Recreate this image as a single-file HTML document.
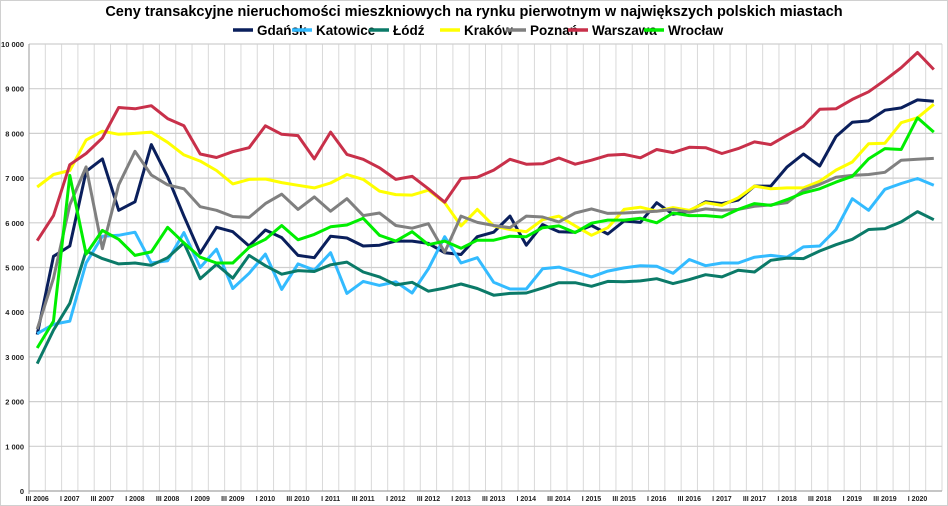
<!DOCTYPE html>
<html><head><meta charset="utf-8"><style>
body{margin:0;background:#fff;}
svg{display:block;font-family:"Liberation Sans",sans-serif;}
</style></head><body>
<svg id="chart" width="948" height="506" viewBox="0 0 948 506" xmlns="http://www.w3.org/2000/svg">
<rect x="0.5" y="0.5" width="947" height="505" fill="#fff" stroke="#d0d0d0"/>
<text x="474" y="16" text-anchor="middle" font-size="14.5" font-weight="bold" fill="#000">Ceny transakcyjne nieruchomości mieszkniowych na rynku pierwotnym w największych polskich miastach</text>
<g id="legend"></g>
<g id="grid"></g>
<g id="yaxis"></g>
<g id="xaxis"></g>
<g id="series"></g>
</svg>
<script>
const categoriesStart = {year: 2006, quarter: 3};
const quarterCount = 56;
const yTicks = [0,1000,2000,3000,4000,5000,6000,7000,8000,9000,10000];
const seriesNames = ["Gdańsk","Katowice","Łódź","Kraków","Poznań","Warszawa","Wrocław"];
const seriesColors = ["#0a1f5c","#33bbff","#0b7a68","#ffff00","#808080","#c8304a","#00ee00"];
const gdansk = [3500,5250,5480,7150,7430,6280,6470,7750,7030,6150,5320,5900,5800,5480,5840,5670,5270,5220,5700,5660,5480,5500,5590,5590,5540,5330,5290,5690,5790,6150,5500,5960,5800,5790,5940,5750,6040,6010,6450,6190,6260,6470,6430,6510,6820,6820,7250,7540,7270,7930,8250,8280,8520,8570,8750,8720];
const katowice = [3520,3730,3800,5100,5700,5720,5790,5100,5150,5780,5000,5410,4530,4870,5300,4510,5080,4940,5330,4420,4690,4600,4680,4430,4970,5690,5100,5220,4670,4520,4520,4970,5010,4900,4790,4920,4990,5040,5030,4870,5180,5040,5100,5100,5230,5270,5230,5460,5480,5850,6540,6280,6750,6880,6990,6840];
const lodz = [2850,3600,4200,5370,5200,5080,5100,5050,5220,5550,4750,5070,4760,5270,5040,4850,4930,4910,5060,5120,4900,4790,4610,4670,4470,4540,4630,4530,4380,4420,4430,4540,4660,4660,4580,4690,4680,4700,4750,4640,4730,4840,4790,4940,4900,5160,5210,5200,5370,5510,5630,5850,5870,6020,6250,6070];
const krakow = [6800,7080,7170,7850,8050,7980,8000,8030,7800,7520,7380,7170,6870,6970,6980,6900,6840,6780,6890,7080,6970,6710,6630,6620,6730,6450,5930,6300,5930,5850,5800,6070,6150,5930,5720,5890,6300,6350,6260,6340,6280,6450,6390,6560,6820,6760,6780,6780,6930,7180,7360,7770,7780,8240,8350,8650];
const poznan = [3620,4760,6400,7250,5420,6850,7600,7070,6850,6760,6360,6280,6140,6120,6430,6640,6300,6580,6260,6540,6160,6220,5940,5880,5980,5340,6150,6010,5940,5890,6150,6130,6020,6220,6310,6210,6220,6240,6260,6300,6240,6310,6280,6300,6370,6400,6450,6730,6860,7020,7060,7080,7130,7400,7420,7440];
const warszawa = [5600,6160,7300,7550,7900,8580,8550,8620,8330,8170,7540,7460,7590,7680,8170,7980,7950,7430,8030,7530,7420,7230,6970,7040,6760,6460,6990,7020,7180,7420,7310,7320,7450,7310,7400,7510,7530,7455,7640,7570,7690,7680,7550,7660,7810,7750,7960,8160,8540,8550,8760,8930,9190,9470,9810,9430];
const wroclaw = [3200,3800,7060,5300,5830,5630,5270,5350,5900,5550,5230,5100,5100,5450,5630,5940,5620,5740,5910,5950,6100,5720,5590,5800,5510,5590,5430,5610,5610,5700,5690,5890,5930,5780,5990,6060,6060,6100,6000,6220,6160,6160,6130,6300,6430,6390,6520,6670,6760,6910,7040,7430,7660,7640,8350,8030];
const seriesData = [gdansk,katowice,lodz,krakow,poznan,warszawa,wroclaw];
const legendTextX = [257,316,393,464,530,592,668];

const NS="http://www.w3.org/2000/svg";
const L=29,R=942,T=44,B=491,yMax=10000;
const step=(R-L)/quarterCount;
function xPos(i){return L+step*(i+0.5);}
function yPos(v){return B-(B-T)*v/yMax;}
function mk(tag,attrs,parent){const e=document.createElementNS(NS,tag);for(const k in attrs)e.setAttribute(k,attrs[k]);parent.appendChild(e);return e;}
const grid=document.getElementById('grid'),ya=document.getElementById('yaxis'),xa=document.getElementById('xaxis'),sg=document.getElementById('series'),lg=document.getElementById('legend');
for(let i=0;i<=quarterCount;i++){
  const x=L+step*i;
  const ln=mk('line',{x1:x,x2:x,y1:T,y2:B,stroke:'#d9d9d9','stroke-width':1},grid);
  
  
}
yTicks.forEach(v=>{
  const y=yPos(v);
  const ln=mk('line',{x1:L,x2:R,y1:y,y2:y,stroke:'#cfcfcf','stroke-width':1.2},grid);
  
  
  const t=mk('text',{x:24,y:y+3,'text-anchor':'end','font-size':7.5,'font-weight':'bold',fill:'#222'},ya);
  t.textContent=v===0?'0':(v>=1000?Math.floor(v/1000)+' '+String(v%1000).padStart(3,'0'):String(v));
  
  
});
mk('line',{x1:L,x2:L,y1:T,y2:B+3,stroke:'#999','stroke-width':1},grid);
mk('line',{x1:L,x2:R,y1:B,y2:B,stroke:'#999','stroke-width':1},grid);
for(let i=0;i<quarterCount;i+=2){
  const q=categoriesStart.quarter-1+i;
  const yr=categoriesStart.year+Math.floor(q/4);
  const qq=q%4+1;
  const t=mk('text',{x:xPos(i),y:501,'text-anchor':'middle','font-size':7,'font-weight':'bold',fill:'#222'},xa);
  t.textContent=(qq===1?'I':'III')+' '+yr;
  
  
}
seriesData.forEach((arr,s)=>{
  const pts=arr.map((v,i)=>xPos(i).toFixed(1)+','+yPos(v).toFixed(1)).join(' ');
  const p=mk('polyline',{points:pts,fill:'none',stroke:seriesColors[s],'stroke-width':3,'stroke-linejoin':'round'},sg);
  
  
  const tx=legendTextX[s];
  const ll=mk('line',{x1:tx-24,x2:tx-4,y1:30,y2:30,stroke:seriesColors[s],'stroke-width':3.5},lg);
  
  
  const t=mk('text',{x:tx,y:35,'font-size':13.5,'font-weight':'bold',fill:'#000'},lg);
  t.textContent=seriesNames[s];
  
  
});
</script>
</body></html>
